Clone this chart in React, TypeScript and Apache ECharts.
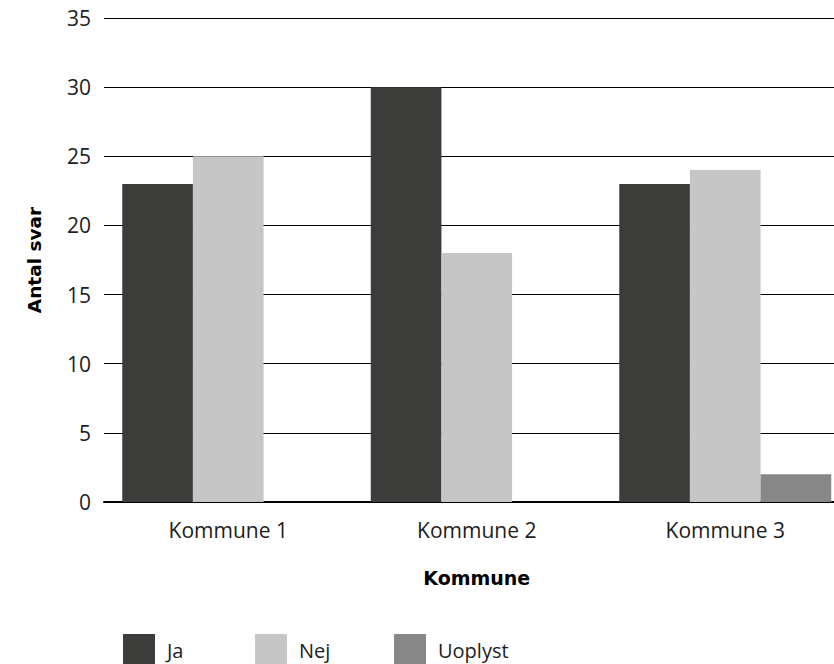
import React, { useEffect, useRef } from "react";
import * as echarts from "echarts";

const categories = ["Kommune 1", "Kommune 2", "Kommune 3"];
const seriesNames = ["Ja", "Nej", "Uoplyst"];
const jaValues = [23, 30, 23];
const nejValues = [25, 18, 24];
const uoplystValues = [0, 0, 2];
const colors = ["#3c3c3b", "#c6c6c6", "#878787"];
const legendLefts = [123, 255, 394];

export default function App() {
  const ref = useRef<HTMLDivElement>(null);
  useEffect(() => {
    if (!ref.current) return;
    const chart = echarts.init(ref.current, undefined, { renderer: "svg" });
    const labelFont = "'Open Sans', 'DejaVu Sans', sans-serif";
    const values = [jaValues, nejValues, uoplystValues];
    chart.setOption({
      animation: false,
      backgroundColor: "#ffffff",
      grid: { left: 104, right: 0.5, top: 18, bottom: 162, containLabel: false },
      legend: seriesNames.map((n, i) => ({
        data: [n],
        left: legendLefts[i],
        top: 634,
        padding: 0,
        itemWidth: 32,
        itemHeight: 32,
        icon: "rect",
        textStyle: {
          fontFamily: labelFont,
          fontSize: 20,
          color: "#1d1d1b",
          padding: [0, 0, 0, 7],
        },
        selectedMode: false,
      })),
      xAxis: {
        type: "category",
        data: categories,
        name: "Kommune",
        nameLocation: "middle",
        nameGap: 66,
        nameTextStyle: {
          fontFamily: "'DejaVu Sans', sans-serif",
          fontWeight: "bold",
          fontSize: 19,
          color: "#000",
        },
        axisLine: { show: true, lineStyle: { color: "#000", width: 2 } },
        axisTick: { show: false },
        axisLabel: {
          fontFamily: labelFont,
          fontSize: 21,
          color: "#1d1d1b",
          margin: 17,
        },
      },
      yAxis: {
        type: "value",
        min: 0,
        max: 35,
        interval: 5,
        name: "Antal svar",
        nameLocation: "middle",
        nameGap: 60,
        nameRotate: 90,
        nameTextStyle: {
          fontFamily: "'DejaVu Sans', sans-serif",
          fontWeight: "bold",
          fontSize: 18.5,
          color: "#000",
        },
        axisLine: { show: false },
        axisTick: { show: false },
        axisLabel: {
          fontFamily: labelFont,
          fontSize: 21,
          color: "#1d1d1b",
          margin: 13,
        },
        splitLine: { show: true, lineStyle: { color: "#000", width: 1.2 } },
      },
      series: seriesNames.map((n, i) => ({
        name: n,
        type: "bar",
        data: values[i],
        barGap: "0%",
        barCategoryGap: "14.7%",
        itemStyle: { color: colors[i] },
      })),
    });
    return () => chart.dispose();
  }, []);
  return (
    <div
      style={{
        position: "fixed",
        left: 0,
        top: 0,
        width: 834,
        height: 664,
        overflow: "hidden",
        background: "#fff",
      }}
    >
      <div ref={ref} style={{ width: 850, height: 664 }} />
    </div>
  );
}
